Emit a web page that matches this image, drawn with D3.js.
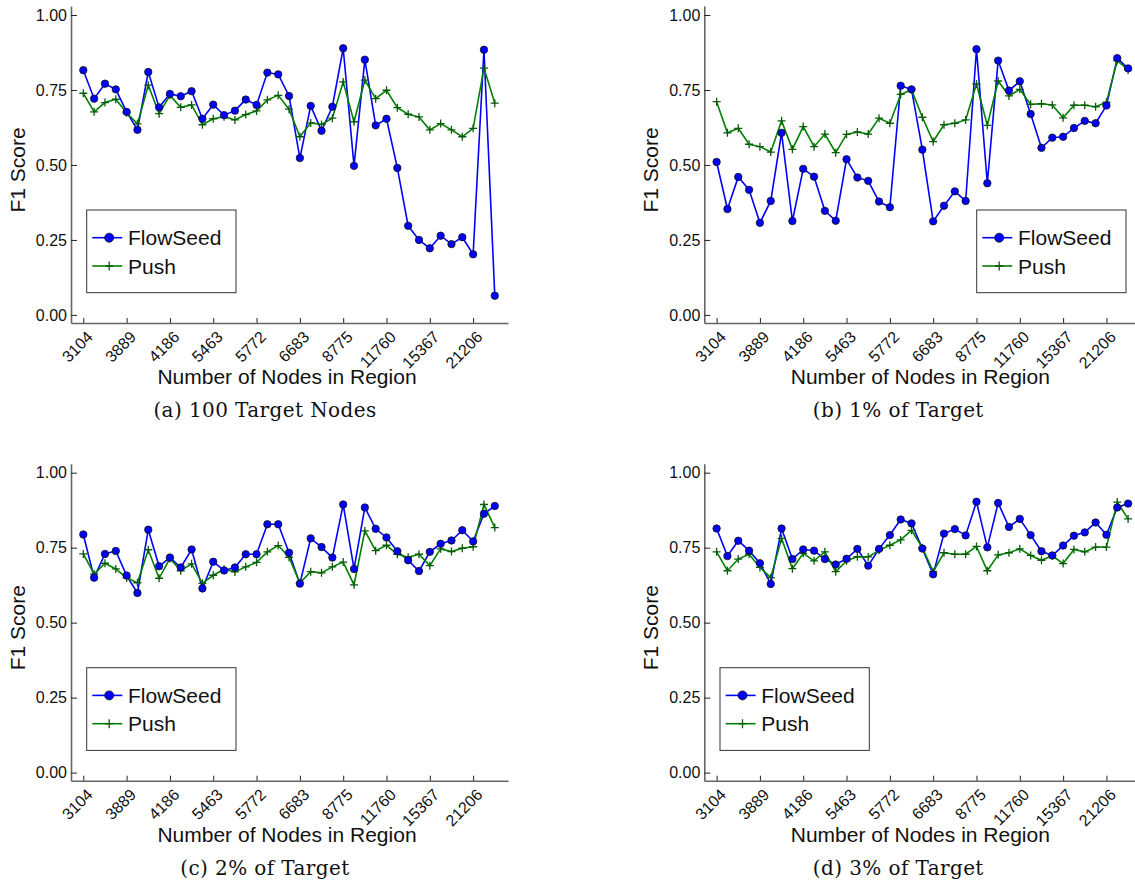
<!DOCTYPE html>
<html>
<head>
<meta charset="utf-8">
<script src="https://cdn.jsdelivr.net/npm/d3@7"></script>
<style>
  body { margin: 0; background: #fff; }
  svg { display: block; font-family: "Liberation Sans", Arial, Helvetica, sans-serif; }
</style>
</head>
<body>
<svg id="chart" width="1135" height="882"></svg>
<script>
// tick labels sit on every 4th region
const tickLabels = ["3104", "3889", "4186", "5463", "5772", "6683", "8775", "11760", "15367", "21206"];
const yTicks = [0, 0.25, 0.5, 0.75, 1];
const seriesNames = ["FlowSeed", "Push"];

const flowA = [0.816,0.721,0.771,0.752,0.677,0.617,0.810,0.692,0.737,0.729,
  0.746,0.654,0.701,0.666,0.681,0.718,0.700,0.808,0.802,0.730,
  0.523,0.697,0.614,0.694,0.889,0.497,0.851,0.632,0.654,0.490,
  0.297,0.250,0.222,0.264,0.236,0.259,0.202,0.884,0.064];
const pushA = [0.739,0.677,0.708,0.719,0.674,0.637,0.766,0.671,0.732,0.692,
  0.700,0.634,0.654,0.661,0.650,0.668,0.680,0.717,0.732,0.686,
  0.594,0.640,0.635,0.656,0.777,0.644,0.783,0.721,0.749,0.691,
  0.669,0.660,0.617,0.638,0.617,0.594,0.622,0.823,0.706];

const flowB = [0.510,0.353,0.460,0.417,0.307,0.380,0.607,0.313,0.487,0.461,
  0.347,0.314,0.519,0.458,0.447,0.378,0.359,0.764,0.752,0.551,
  0.312,0.364,0.412,0.380,0.886,0.439,0.848,0.748,0.779,0.670,
  0.557,0.591,0.594,0.623,0.647,0.639,0.698,0.856,0.822];
const pushB = [0.711,0.607,0.622,0.569,0.561,0.543,0.647,0.552,0.628,0.561,
  0.603,0.541,0.602,0.610,0.603,0.656,0.639,0.735,0.751,0.659,
  0.578,0.634,0.639,0.650,0.770,0.632,0.780,0.730,0.752,0.702,
  0.704,0.700,0.657,0.699,0.699,0.694,0.709,0.848,0.817];

const flowC = [0.794,0.650,0.729,0.739,0.657,0.599,0.810,0.688,0.717,0.684,
  0.744,0.614,0.703,0.674,0.684,0.728,0.728,0.828,0.828,0.733,
  0.630,0.781,0.752,0.717,0.894,0.679,0.884,0.813,0.784,0.738,
  0.708,0.672,0.736,0.763,0.774,0.808,0.771,0.863,0.889];
const pushC = [0.729,0.662,0.698,0.679,0.649,0.633,0.743,0.648,0.714,0.673,
  0.696,0.631,0.658,0.678,0.669,0.686,0.701,0.736,0.757,0.718,
  0.632,0.670,0.666,0.686,0.702,0.626,0.806,0.740,0.758,0.728,
  0.718,0.728,0.690,0.746,0.737,0.748,0.753,0.894,0.817];

const flowD = [0.814,0.722,0.773,0.740,0.698,0.629,0.814,0.712,0.744,0.740,
  0.712,0.694,0.713,0.746,0.690,0.746,0.792,0.844,0.831,0.747,
  0.661,0.797,0.812,0.791,0.903,0.751,0.899,0.819,0.846,0.792,
  0.738,0.724,0.757,0.790,0.801,0.834,0.793,0.884,0.897];
const pushD = [0.736,0.673,0.712,0.728,0.684,0.650,0.781,0.680,0.731,0.706,
  0.736,0.670,0.706,0.720,0.719,0.741,0.758,0.776,0.808,0.750,
  0.670,0.733,0.728,0.728,0.754,0.673,0.726,0.733,0.746,0.724,
  0.708,0.723,0.697,0.744,0.736,0.752,0.752,0.902,0.846];

const captions = ["(a) 100 Target Nodes", "(b) 1% of Target", "(c) 2% of Target", "(d) 3% of Target"];

const svg = d3.select("#chart");
svg.append("rect").attr("width", 1135).attr("height", 882).attr("fill", "#fff");

const blue = "#0000ff";
const green = "#008000";

const panels = [
  { x: 71, y: 15, flow: flowA, push: pushA, cap: captions[0], legendRight: false },
  { x: 704.3, y: 15, flow: flowB, push: pushB, cap: captions[1], legendRight: true },
  { x: 71, y: 472.7, flow: flowC, push: pushC, cap: captions[2], legendRight: false },
  { x: 704.3, y: 472.7, flow: flowD, push: pushD, cap: captions[3], legendRight: false }
];

const x = d3.scaleLinear().domain([-1.136, 39.22]).range([0, 437]);
const y = d3.scaleLinear().domain([-0.027, 1.03]).range([308, -9]);

function drawPanel(p) {
  const g = svg.append("g").attr("transform", `translate(${p.x},${p.y})`);

  const xAxis = g.append("g")
    .attr("transform", `translate(0,${y.range()[0]})`)
    .call(d3.axisBottom(x)
      .tickValues(d3.range(0, 37, 4))
      .tickFormat(i => tickLabels[i / 4])
      .tickSize(-5)
      .tickSizeOuter(0));
  xAxis.selectAll("text")
    .attr("x", null).attr("y", null).attr("dy", null)
    .attr("text-anchor", "end")
    .attr("transform", "translate(10,15) rotate(-45)")
    .attr("font-size", 16).attr("font-family", null)
    .attr("fill", "#111");

  const yAxis = g.append("g")
    .call(d3.axisLeft(y)
      .tickValues(yTicks)
      .tickFormat(d3.format(".2f"))
      .tickSize(-6)
      .tickSizeOuter(0)
      .tickPadding(4));
  yAxis.selectAll("text").attr("font-size", 16).attr("font-family", null).attr("fill", "#111");

  g.selectAll(".domain").attr("stroke", "#666").attr("stroke-width", 1.6);
  g.selectAll(".tick line").attr("stroke", "#222").attr("stroke-width", 1);

  const line = d3.line().x((d, i) => x(i)).y(d => y(d));

  g.append("path").datum(p.flow)
    .attr("d", line).attr("fill", "none")
    .attr("stroke", blue).attr("stroke-width", 1.6);
  g.append("path").datum(p.push)
    .attr("d", line).attr("fill", "none")
    .attr("stroke", green).attr("stroke-width", 1.6);

  g.selectAll(".plus").data(p.push).enter()
    .append("path").attr("class", "plus")
    .attr("transform", (d, i) => `translate(${x(i)},${y(d)})`)
    .attr("d", "M-4,0H4M0,-4V4")
    .attr("stroke", "#0a5a0a").attr("stroke-width", 1.3);

  g.selectAll(".dot").data(p.flow).enter()
    .append("circle").attr("class", "dot")
    .attr("cx", (d, i) => x(i)).attr("cy", d => y(d))
    .attr("r", 3.7)
    .attr("fill", blue).attr("stroke", "#111").attr("stroke-width", 0.8);

  // axis titles
  g.append("text")
    .attr("x", 216).attr("y", 369)
    .attr("text-anchor", "middle").attr("font-size", 21).attr("fill", "#111")
    .text("Number of Nodes in Region");
  g.append("text")
    .attr("transform", "translate(-46,155) rotate(-90)")
    .attr("text-anchor", "middle").attr("font-size", 21).attr("fill", "#111")
    .text("F1 Score");

  // caption
  g.append("text")
    .attr("x", 194).attr("y", 402)
    .attr("text-anchor", "middle")
    .attr("font-family", "'DejaVu Serif', serif")
    .attr("font-size", 20).attr("letter-spacing", 0.4).attr("fill", "#111")
    .text(p.cap);

  // legend
  const lx = p.legendRight ? 272.4 : 15.7;
  const legend = g.append("g").attr("transform", `translate(${lx},195)`);
  legend.append("rect")
    .attr("width", 149.3).attr("height", 82.7)
    .attr("fill", "#fff").attr("stroke", "#333").attr("stroke-width", 1);

  const item = legend.selectAll(".item").data(seriesNames).enter()
    .append("g").attr("class", "item")
    .attr("transform", (d, i) => `translate(0,${27.7 + i * 28.3})`);
  item.append("line")
    .attr("x1", 5.6).attr("x2", 35.6)
    .attr("stroke", (d, i) => i === 0 ? blue : green).attr("stroke-width", 1.6);
  item.filter((d, i) => i === 0).append("circle")
    .attr("cx", 22.5).attr("r", 4.5)
    .attr("fill", blue).attr("stroke", "#111").attr("stroke-width", 0.8);
  item.filter((d, i) => i === 1).append("path")
    .attr("transform", "translate(22.5,0)")
    .attr("d", "M-4,0H4M0,-4.5V4.5")
    .attr("stroke", "#0a5a0a").attr("stroke-width", 1.3);
  item.append("text")
    .attr("x", 41.3).attr("y", 7.5)
    .attr("font-size", 21).attr("fill", "#111")
    .text(d => d);
}

panels.forEach(drawPanel);
</script>
</body>
</html>
